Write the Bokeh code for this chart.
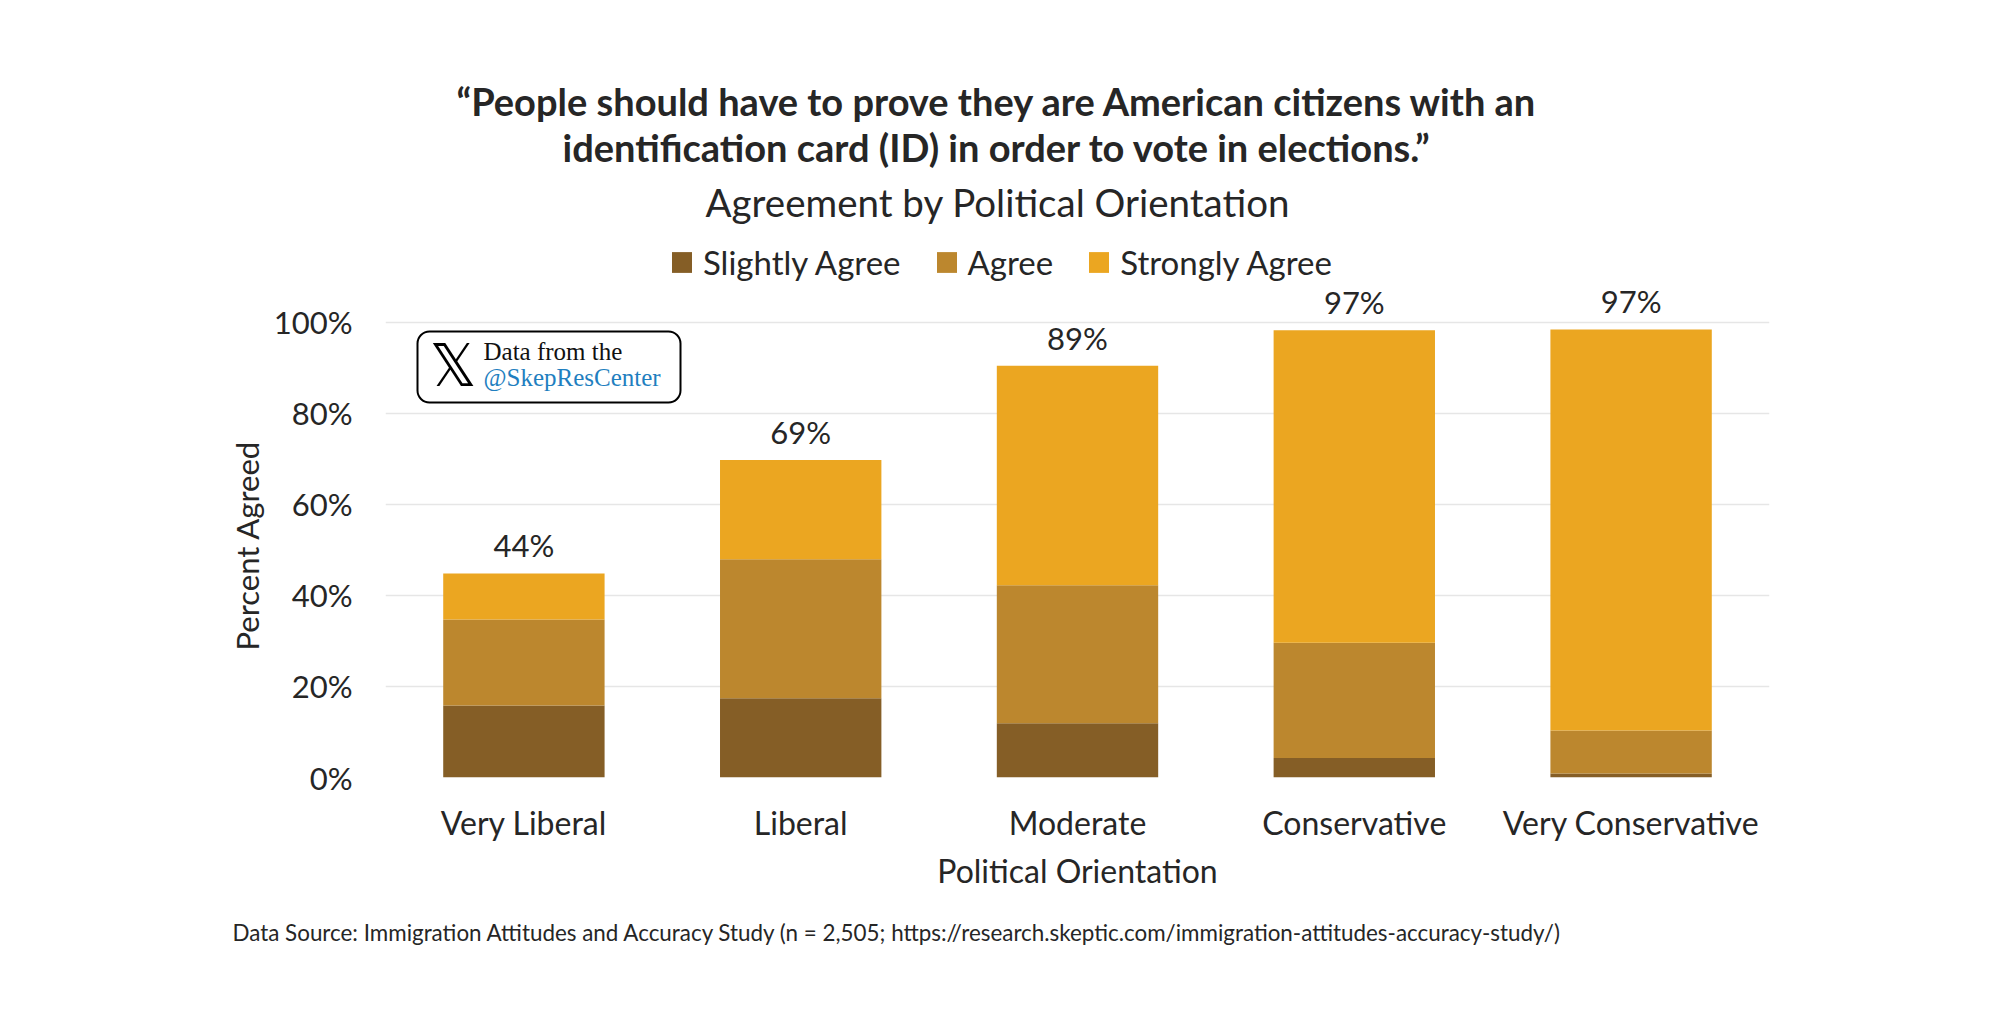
from bokeh.plotting import figure
from bokeh.models import (ColumnDataSource, Legend, LegendItem, Label, BoxAnnotation, Title,
                          FixedTicker, PrintfTickFormatter, Range1d, FactorRange)
from bokeh.core.properties import value
from bokeh.embed import file_html
from bokeh.resources import INLINE

# ---------------- data ----------------
categories = ["Very Liberal", "Liberal", "Moderate", "Conservative", "Very Conservative"]
slightly_agree = [15.8, 17.4, 11.9, 4.3, 0.9]
agree = [18.9, 30.5, 30.3, 25.3, 9.4]
strongly_agree = [10.1, 21.8, 48.2, 68.6, 88.1]
total_labels = ["44%", "69%", "89%", "97%", "97%"]
y_ticks = [0, 20, 40, 60, 80, 100]

series_names = ["Slightly Agree", "Agree", "Strongly Agree"]
colors = ["#855E26", "#BC872E", "#EBA621"]

totals = [a + b + c for a, b, c in zip(slightly_agree, agree, strongly_agree)]

source = ColumnDataSource(dict(
    cat=categories,
    s1=slightly_agree,
    s2=agree,
    s3=strongly_agree,
    total=totals,
    lab=total_labels,
))

FONT = "Lato"
TXT = "#262626"

p = figure(x_range=FactorRange(*categories, range_padding=0), y_range=Range1d(0, 118.8),
           width=2000, height=1034, output_backend="svg", toolbar_location=None,
           min_border_left=385, min_border_right=231, min_border_top=236, min_border_bottom=257)
p.background_fill_color = "white"
p.border_fill_color = "white"
p.outline_line_color = None

renderers = p.vbar_stack(["s1", "s2", "s3"], x="cat", width=0.583, source=source,
                         color=colors, line_color=None)

# total labels
p.text(x="cat", y="total", text="lab", source=source, text_align="center",
       text_baseline="bottom", y_offset=-9, text_font=value(FONT), text_font_size="31px",
       text_color=TXT)

# axes
p.yaxis.ticker = FixedTicker(ticks=y_ticks)
p.yaxis.formatter = PrintfTickFormatter(format="%d%%")
for ax in (p.xaxis[0], p.yaxis[0]):
    ax.axis_line_color = None
    ax.major_tick_line_color = None
    ax.minor_tick_line_color = None
    ax.major_tick_out = 0
    ax.major_tick_in = 0
    ax.minor_tick_out = 0
    ax.major_label_text_font = FONT
    ax.major_label_text_color = TXT
    ax.axis_label_text_font = FONT
    ax.axis_label_text_font_style = "normal"
    ax.axis_label_text_color = TXT
p.yaxis.major_label_text_font_size = "31px"
p.xaxis.major_label_text_font_size = "32px"
p.xaxis.axis_label_text_font_size = "32px"
p.xaxis.axis_label = "Political Orientation"
p.yaxis.major_label_standoff = 33
p.xaxis.major_label_standoff = 25
p.xaxis.axis_label_standoff = 6

# y-axis title centred on the 0-100 span (not the whole frame)
p.add_layout(Title(text="Percent Agreed", align="left", offset=127, standoff=10,
                   text_font=FONT, text_font_size="31px", text_font_style="normal",
                   text_color=TXT), "left")

p.xgrid.grid_line_color = None
p.ygrid.grid_line_color = "#E6E6E6"
p.ygrid.grid_line_width = 1.5

# legend (inside the top of the frame)
legend = Legend(items=[LegendItem(label=n, renderers=[r]) for n, r in zip(series_names, renderers)],
                orientation="horizontal", location=(284, 495),
                glyph_width=25, glyph_height=26, label_standoff=9, spacing=33,
                padding=0, margin=0, border_line_color=None, background_fill_alpha=0,
                label_text_font=FONT, label_text_font_size="33px", label_text_color=TXT,
                label_height=26)
p.add_layout(legend, "center")

# titles, stacked outward from the frame
def title(text, size, style, offset, standoff):
    t = Title(text=text, align="left", offset=offset, standoff=standoff,
              text_font=FONT, text_font_size=size, text_font_style=style, text_color=TXT)
    p.add_layout(t, "above")

title("Agreement by Political Orientation", "38.5px", "normal", 320, 23.5)
title("identification card (ID) in order to vote in elections.\u201d", "38px", "bold", 177, -10)
title("\u201cPeople should have to prove they are American citizens with an", "38px", "bold", 71, 5.5)

# footer
p.add_layout(Title(text="Data Source: Immigration Attitudes and Accuracy Study (n = 2,505; "
                        "https://research.skeptic.com/immigration-attitudes-accuracy-study/)",
                   align="left", offset=-153, standoff=47.5, text_font=FONT,
                   text_font_size="22.4px", text_font_style="normal", text_color=TXT), "below")

# badge (screen units relative to the frame)
def lab(text, x, y, size, font, color, align="left"):
    p.add_layout(Label(text=text, x=x, y=y, x_units="screen", y_units="screen",
                       text_font=font, text_font_size=size, text_color=color,
                       text_align=align, text_baseline="middle"))

p.add_layout(BoxAnnotation(left=32, right=295, top=446, bottom=375,
                           left_units="screen", right_units="screen",
                           top_units="screen", bottom_units="screen",
                           fill_color="white", fill_alpha=1, line_color="black",
                           line_alpha=1, line_width=2, border_radius=12))
lab("\U0001D54F", 67.5, 412, "58px", "DejaVu Sans", "black", "center")
lab("Data from the", 98, 426, "25px", "Liberation Serif", "#111111")
lab("@SkepResCenter", 98, 400, "25px", "Liberation Serif", "#1F7FC0")

open("out.html", "w").write(file_html(p, INLINE))
